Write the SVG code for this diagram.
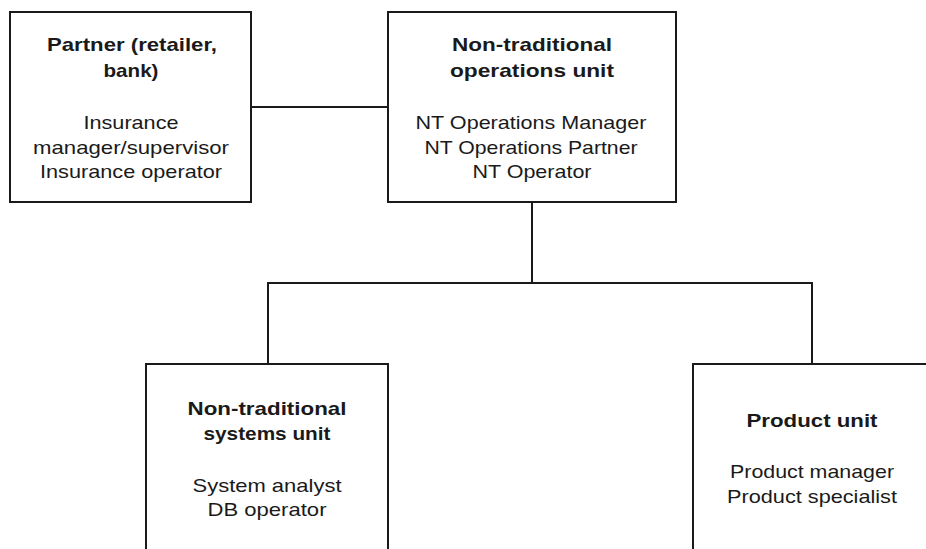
<svg xmlns="http://www.w3.org/2000/svg" width="926" height="549" viewBox="0 0 926 549">
<style>
.box{fill:#fff;stroke:#1a1a1a;stroke-width:2}
.conn{fill:none;stroke:#1a1a1a;stroke-width:2}
text{font-family:"Liberation Sans",Arial,sans-serif;font-size:19px;fill:#1a1a1a;text-anchor:middle}
.t{font-weight:bold}
</style>
<rect width="926" height="549" fill="#fff"/>
<g id="connectors">
<path class="conn" d="M251,107 H388"/>
<path class="conn" d="M532,202 V283"/>
<path class="conn" d="M268,364 V283 H812 V364"/>
</g>
<g id="partner">
<rect class="box" x="10" y="12" width="241" height="190"/>
<text class="t" x="132" y="51" textLength="170" lengthAdjust="spacingAndGlyphs">Partner (retailer,</text>
<text class="t" x="131" y="77" textLength="55" lengthAdjust="spacingAndGlyphs">bank)</text>
<text x="131" y="129" textLength="95" lengthAdjust="spacingAndGlyphs">Insurance</text>
<text x="131" y="154" textLength="196" lengthAdjust="spacingAndGlyphs">manager/supervisor</text>
<text x="131" y="178" textLength="182" lengthAdjust="spacingAndGlyphs">Insurance operator</text>
</g>
<g id="nt-operations">
<rect class="box" x="388" y="12" width="288" height="190"/>
<text class="t" x="532" y="51" textLength="160" lengthAdjust="spacingAndGlyphs">Non-traditional</text>
<text class="t" x="532" y="77" textLength="164" lengthAdjust="spacingAndGlyphs">operations unit</text>
<text x="531" y="129" textLength="231" lengthAdjust="spacingAndGlyphs">NT Operations Manager</text>
<text x="531" y="154" textLength="213" lengthAdjust="spacingAndGlyphs">NT Operations Partner</text>
<text x="532" y="178" textLength="119" lengthAdjust="spacingAndGlyphs">NT Operator</text>
</g>
<g id="nt-systems">
<rect class="box" x="146" y="364" width="242" height="200"/>
<text class="t" x="267" y="415" textLength="159" lengthAdjust="spacingAndGlyphs">Non-traditional</text>
<text class="t" x="267" y="440" textLength="127" lengthAdjust="spacingAndGlyphs">systems unit</text>
<text x="267" y="492" textLength="149" lengthAdjust="spacingAndGlyphs">System analyst</text>
<text x="267" y="516" textLength="119" lengthAdjust="spacingAndGlyphs">DB operator</text>
</g>
<g id="product">
<rect class="box" x="693" y="364" width="250" height="200"/>
<text class="t" x="812" y="427" textLength="131" lengthAdjust="spacingAndGlyphs">Product unit</text>
<text x="812" y="478" textLength="164" lengthAdjust="spacingAndGlyphs">Product manager</text>
<text x="812" y="503" textLength="170" lengthAdjust="spacingAndGlyphs">Product specialist</text>
</g>
</svg>
